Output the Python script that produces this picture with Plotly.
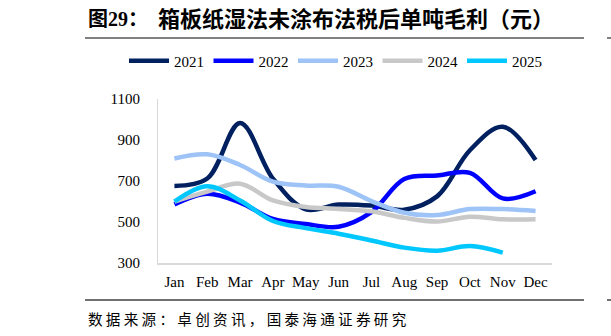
import plotly.graph_objects as go

months = ["Jan", "Feb", "Mar", "Apr", "May", "Jun", "Jul", "Aug", "Sep", "Oct", "Nov", "Dec"]
y2021 = [676, 712, 983, 712, 562, 585, 580, 560, 625, 850, 965, 802]
y2022 = [586, 638, 595, 515, 490, 477, 548, 710, 727, 740, 615, 650]
y2023 = [810, 830, 778, 697, 678, 672, 602, 545, 534, 563, 563, 554]
y2024 = [600, 648, 687, 605, 573, 564, 552, 520, 502, 526, 513, 513]
y2025 = [600, 675, 605, 505, 470, 443, 410, 375, 360, 383, 351, None]
yticks = [300, 500, 700, 900, 1100]

series = [
    ("2021", y2021, "#002060"),
    ("2022", y2022, "#0000FF"),
    ("2023", y2023, "#9DC3F7"),
    ("2024", y2024, "#C8C8C8"),
    ("2025", y2025, "#00C8FF"),
]

serif = "Liberation Serif, Times New Roman, serif"
plot_w = 611 - 158 - 59
plot_h = 336 - 99 - 73

def px_x(p):
    return (p - 158) / plot_w

def px_y(p):
    return (336 - 73 - p) / plot_h

fig = go.Figure()
legend_layouts = {}
for i, (name, vals, col) in enumerate(series):
    lname = "legend" if i == 0 else f"legend{i + 1}"
    fig.add_trace(go.Scatter(
        x=months, y=vals, name=name, mode="lines", legend=lname,
        line=dict(color=col, width=4.5, shape="spline", smoothing=1.0),
    ))
    legend_layouts[lname] = dict(
        orientation="h", x=px_x(124 + 84.5 * i), xanchor="left",
        y=px_y(61), yanchor="middle",
        font=dict(family=serif, size=15, color="black"),
        itemwidth=40, bgcolor="rgba(0,0,0,0)",
    )

fig.update_layout(
    width=611, height=336,
    margin=dict(l=158, r=59, t=99, b=73),
    paper_bgcolor="white", plot_bgcolor="white",
    showlegend=True,
    xaxis=dict(
        type="category", showgrid=False, showline=True, linecolor="#D9D9D9", linewidth=2,
        ticks="", tickfont=dict(family=serif, size=15, color="black"),
        range=[-0.5, 11.5], ticklabelstandoff=4,
    ),
    yaxis=dict(
        range=[300, 1100], tickvals=yticks, showgrid=False, zeroline=False,
        showline=True, linecolor="#D9D9D9", linewidth=1, ticks="",
        tickfont=dict(family=serif, size=15, color="black"), ticklabelstandoff=14,
    ),
    **legend_layouts,
)

cjk = "Liberation Serif, Noto Sans CJK SC"
fig.add_annotation(text="<b>图29：</b>", x=px_x(86), y=px_y(19), xref="paper", yref="paper",
                   xanchor="left", yanchor="middle", showarrow=False,
                   font=dict(family=cjk, size=20, color="black"))
fig.add_annotation(text="<b>箱板纸湿法未涂布法税后单吨毛利（元）</b>", x=px_x(156), y=px_y(19),
                   xref="paper", yref="paper", xanchor="left", yanchor="middle", showarrow=False,
                   font=dict(family=cjk, size=22, color="black"))
fig.add_annotation(text=" ".join("数据来源：卓创资讯，国泰海通证券研究"), x=px_x(86), y=px_y(318),
                   xref="paper", yref="paper", xanchor="left", yanchor="middle", showarrow=False,
                   font=dict(family="Noto Sans CJK SC", size=14.6, color="black"))

fig.add_shape(type="line", xref="paper", yref="paper", x0=px_x(85), x1=px_x(584),
              y0=px_y(38), y1=px_y(38), line=dict(color="#808080", width=2))
fig.add_shape(type="line", xref="paper", yref="paper", x0=px_x(607), x1=px_x(611),
              y0=px_y(38), y1=px_y(38), line=dict(color="#808080", width=2))
fig.add_shape(type="line", xref="paper", yref="paper", x0=px_x(85), x1=px_x(584),
              y0=px_y(300), y1=px_y(300), line=dict(color="#404040", width=1.5))
fig.add_shape(type="line", xref="paper", yref="paper", x0=px_x(607), x1=px_x(611),
              y0=px_y(300), y1=px_y(300), line=dict(color="#404040", width=1.5))

fig.write_html("out.html")
